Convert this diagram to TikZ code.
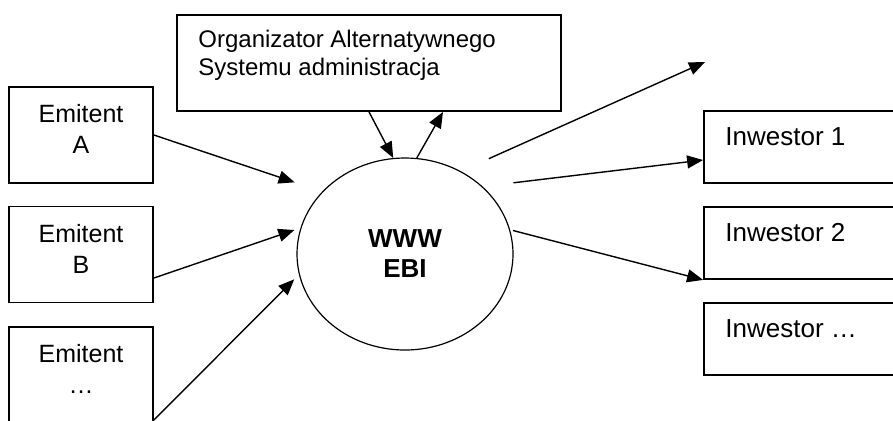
\documentclass[tikz,border=0pt]{standalone}
\usepackage{fontspec}
\setmainfont{Liberation Sans}
\usepackage{tikz}
\usetikzlibrary{arrows.meta}
\usetikzlibrary{shapes.geometric}

\begin{document}
\begin{tikzpicture}[x=0.5pt,y=-0.5pt,
    >={Triangle[length=8pt,width=6.5pt]},
    box/.style={draw, line width=0.9pt, minimum width=72pt, minimum height=48pt, inner sep=0pt},
    invbox/.style={draw, line width=0.9pt, minimum width=98pt, minimum height=36pt, inner sep=0pt},
    txt/.style={inner sep=0pt, font=\fontsize{13}{15.5}\selectfont},
    conn/.style={->, line width=0.7pt}]
  \useasboundingbox (0,0) rectangle (893,420);
 %emitenci
    \node[box, label={[txt, font=\fontsize{12.5}{15.5}\selectfont, align=center, anchor=north, yshift=-9pt]north:Emitent\\A}] (emA) at (81,135) {};
    \node[box, label={[txt, font=\fontsize{12.5}{15.5}\selectfont, align=center, anchor=north, yshift=-9pt]north:Emitent\\B}] (emB) at (81,254.5) {};
    \node[box, label={[txt, font=\fontsize{12.5}{15.5}\selectfont, align=center, anchor=north, yshift=-9pt]north:Emitent\\…}] (emC) at (81,375) {};
 %organizator
    \node[box, minimum width=192pt, label={[txt, font=\fontsize{12}{14}\selectfont, align=left, anchor=north west, xshift=-85.5pt, yshift=-8pt]north:Organizator Alternatywnego\\Systemu administracja}] (org) at (369,63) {};
 %serwis
    \node[ellipse, draw, line width=0.6pt, minimum width=108pt, minimum height=96pt, inner sep=0pt, align=center, font=\fontsize{13}{15}\selectfont\bfseries] (ell) at (405,254) {WWW\\EBI};
 %inwestorzy
    \node[invbox, label={[txt, anchor=north west, xshift=-38.5pt, yshift=-8.5pt]north:Inwestor 1}] (inv1) at (802,147) {};
    \node[invbox, label={[txt, anchor=north west, xshift=-38.5pt, yshift=-8.5pt]north:Inwestor 2}] (inv2) at (802,243) {};
    \node[invbox, label={[txt, anchor=north west, xshift=-38.5pt, yshift=-8.5pt]north:Inwestor …}] (inv3) at (802,339) {};
    \coordinate (out) at (705,62);
 %strzalki
    \draw[conn] (org.south) -- (ell.97);
    \draw[conn] (ell.83) -- ([xshift=37pt]org.south);
    \draw[conn, shorten >=14.5pt] (emA.east) -- (ell.143);
    \draw[conn, shorten >=3.2pt] ([yshift=-11.75pt]emB.east) -- (ell.166);
    \draw[conn, shorten >=3.3pt] ([yshift=-22.5pt]emC.east) -- (ell.191);
    \draw[conn, shorten <=15.3pt] (ell.56) -- (out);
    \draw[conn, shorten <=15.5pt] (ell.41) -- ([yshift=-6.5pt]inv1.west);
    \draw[conn, shorten <=1.5pt] (ell.13) -- (inv2.south west);
\end{tikzpicture}
\end{document}
